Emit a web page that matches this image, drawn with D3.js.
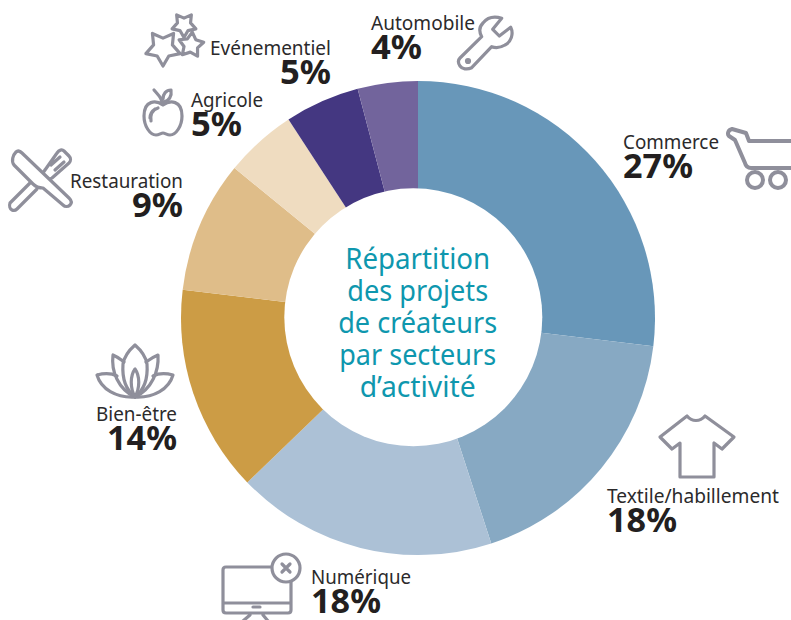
<!DOCTYPE html>
<html><head><meta charset="utf-8">
<script src="https://cdn.jsdelivr.net/npm/d3@7"></script>
<style>html,body{margin:0;padding:0;background:#fff;overflow:hidden}svg{display:block}</style>
</head><body><svg id="c" width="791" height="620"></svg>
<script>
const categories=["Commerce","Textile/habillement","Numérique","Bien-être","Restauration","Agricole","Evénementiel","Automobile"];
const percentLabels=[27,18,18,14,9,5,5,4];
const shares=[26.9,18.1,17.8,14.1,9,4.9,5.1,4.1];
const colors=["#6897b9","#87a9c3","#acc1d6","#cc9c45","#dfbd89","#efdcc0","#443781","#72649c"];
const centerLines=["Répartition","des projets","de créateurs","par secteurs","d’activité"];
const labelX=[623,607,311,177,183,191,331,371];
const labelAnchor=["start","start","start","end","end","start","end","start"];
const labelY=[149,503,584,421,188,106.5,55,30];
const labelW=[96,172,100,81,113,72,121,104];
const pctW=[70,70,70,70,51,51,51,51];
const font='"Noto Sans",sans-serif';
const svg=d3.select("#c");
const g=svg.append("g").attr("transform","translate(418,318)");
const pie=d3.pie().sort(null)(shares);
const arc=d3.arc().innerRadius(0).outerRadius(237);
g.selectAll("path").data(pie).join("path").attr("d",arc).attr("fill",(d,i)=>colors[i]);
svg.append("circle").attr("cx",413.3).attr("cy",317.2).attr("r",129).attr("fill","#fff");
svg.append("g").selectAll("text").data(centerLines).join("text").attr("text-anchor","middle")
 .attr("x",417.7).attr("y",(d,i)=>269.3+i*32).attr("font-family",font).attr("font-size",29.5).attr("fill","#0e97ae")
 .attr("textLength",(d,i)=>[145,141,159,157,116][i]).attr("lengthAdjust","spacingAndGlyphs").text(d=>d);
const lab=svg.append("g");
categories.forEach((c,i)=>{
 lab.append("text").attr("x",labelX[i]).attr("y",labelY[i]).attr("text-anchor",labelAnchor[i]).attr("font-family",font)
  .attr("font-size",20).attr("fill","#2b2a2b").attr("textLength",labelW[i]).attr("lengthAdjust","spacingAndGlyphs").text(c);
 lab.append("text").attr("x",labelX[i]).attr("y",labelY[i]+29).attr("text-anchor",labelAnchor[i]).attr("font-family",font)
  .attr("font-weight",700).attr("font-size",34).attr("fill","#231f20").attr("textLength",pctW[i]).attr("lengthAdjust","spacingAndGlyphs").text(percentLabels[i]+"%");
});
const ic=svg.append("g").attr("fill","none").attr("stroke","#8f8f9b").attr("stroke-width",3.2).attr("stroke-linejoin","round").attr("stroke-linecap","round");
const star=(cx,cy,R,rot)=>{const p=[];for(let i=0;i<10;i++){const r=i%2?R*0.55:R,a=rot+i*Math.PI/5;p.push([cx+r*Math.sin(a),cy-r*Math.cos(a)]);}return "M"+p.map(q=>q.join(",")).join("L")+"Z";};
// stars
ic.append("path").attr("d",star(184,25,12.5,Math.PI)).attr("fill","#fff");
ic.append("path").attr("d",star(191,45,13,0.1)).attr("fill","#fff");
ic.append("path").attr("d",star(163,48,18,Math.PI)).attr("fill","#fff");
// apple
ic.append("path").attr("d","M163,105C156,100 144,100 144,116C144,126 150,135 156,135C159,135 161,133 163,133C165,133 167,135 170,135C176,135 182,126 182,116C182,100 170,100 163,105Z");
ic.append("path").attr("d","M162,104C162,98 159,96 154,90M163,99C163,94 166,90 171,90C172,96 169,101 164,102M151,121C150,114 152,110 158,108M155,109C152,111 150,114 150,118");
// cutlery: fork first, knife on top
ic.append("path").attr("d","M30,183L10,203C9,206 10,209 12,210C14,211 16,210 17,209L37,189");
ic.append("path").attr("d","M45,170L57,153C59,150 62,149 64,151L69,156C71,158 71,161 69,163L52,178C49,180 47,180 45,178C42,175 43,172 45,170ZM51,165L60,157M55,170L64,162");
ic.append("path").attr("d","M16,152C18,150 20,151 22,153L69,198C72,201 72,203 70,205C68,207 65,207 63,205L43,188C39,188 36,187 33,184L14,165C11,161 13,155 16,152Z").attr("fill","#fff");
// lotus
ic.append("path").attr("d","M135,345C127,352 124,358 123,364C122,378 126,390 135,397C144,390 148,378 147,364C146,358 143,352 135,345Z");
ic.append("path").attr("d","M113,355C111,371 118,389 135,397C152,389 159,371 158,355C153,357 149,360 146,362M113,355C118,357 121,360 124,362");
ic.append("path").attr("d","M97,375C101,389 116,398 135,397C154,398 169,389 173,375C165,373 157,374 153,376M97,375C105,373 113,374 117,376");
ic.append("path").attr("d","M135,369C130,376 130,388 135,397C140,388 140,376 135,369Z");
// monitor
ic.append("path").attr("d","M226,567H288Q291,567 291,570V610Q291,613 288,613H226Q223,613 223,610V570Q223,567 226,567ZM223,603H291M243,621L250,615M263,615L268,621");
ic.append("path").attr("d","M253,607H260");
ic.append("circle").attr("cx",286).attr("cy",568).attr("r",14).attr("fill","#fff");
ic.append("path").attr("d","M282,564L290,572M290,564L282,572");
// shirt
ic.append("path").attr("d","M687,416C692,422 700,422 705,416L734,437L722,449L714,443V477H680V443L672,449L660,437Z");
// cart
ic.append("g").attr("stroke-width",4).call(s=>{
 s.append("path").attr("d","M732,129L746,133L749,141H795M732,129C728,130 727,134 729,136L735,140L745,163C746,167 748,168 751,168H795");
 s.append("circle").attr("cx",755).attr("cy",180).attr("r",8);
 s.append("circle").attr("cx",778).attr("cy",180).attr("r",8);
});
// wrench
ic.append("path").attr("d","M460,58L481.7,36.7C478,30 480,26 483,23C487,18 494,16 501.7,18.3L492.7,29.3L499.3,36L510.7,27.3C514,34 511,42 505,45C500,48 495,48 491.7,46.7L471.7,67.7C467,70 462,69 460,66C458,63 458,60 460,58Z");
ic.append("circle").attr("cx",468).attr("cy",61).attr("r",1.5);
</script></body></html>
